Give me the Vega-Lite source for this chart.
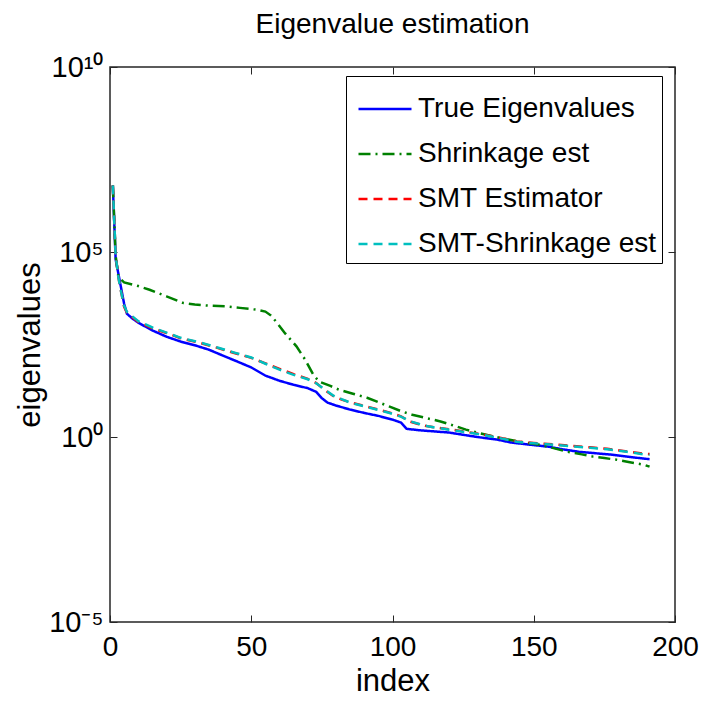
{
  "$schema": "https://vega.github.io/schema/vega-lite/v6.json",
  "autosize": "none",
  "width": 565,
  "height": 555,
  "padding": {"left": 110, "top": 67, "right": 40, "bottom": 82},
  "background": "white",
  "config": {
    "view": {"stroke": "#262626", "strokeWidth": 1.5},
    "font": "Liberation Sans, Arial"
  },
  "title": {
    "text": "Eigenvalue estimation",
    "fontSize": 28,
    "fontWeight": "normal",
    "font": "Liberation Sans, Arial",
    "color": "black",
    "offset": 14,
    "anchor": "middle"
  },
  "data": {
    "values": [
      {"series": "True Eigenvalues", "index": 1, "value": 6.31e6},
      {"series": "True Eigenvalues", "index": 2, "value": 6.31e4},
      {"series": "True Eigenvalues", "index": 3, "value": 2.51e4},
      {"series": "True Eigenvalues", "index": 4, "value": 1.0e4},
      {"series": "True Eigenvalues", "index": 5, "value": 3.98e3},
      {"series": "True Eigenvalues", "index": 6, "value": 2.14e3},
      {"series": "True Eigenvalues", "index": 8, "value": 1.58e3},
      {"series": "True Eigenvalues", "index": 10, "value": 1.23e3},
      {"series": "True Eigenvalues", "index": 15, "value": 759},
      {"series": "True Eigenvalues", "index": 20, "value": 513},
      {"series": "True Eigenvalues", "index": 25, "value": 380},
      {"series": "True Eigenvalues", "index": 30, "value": 302},
      {"series": "True Eigenvalues", "index": 35, "value": 229},
      {"series": "True Eigenvalues", "index": 40, "value": 158},
      {"series": "True Eigenvalues", "index": 45, "value": 110},
      {"series": "True Eigenvalues", "index": 50, "value": 75.9},
      {"series": "True Eigenvalues", "index": 55, "value": 45.7},
      {"series": "True Eigenvalues", "index": 60, "value": 33.1},
      {"series": "True Eigenvalues", "index": 65, "value": 25.7},
      {"series": "True Eigenvalues", "index": 70, "value": 20.9},
      {"series": "True Eigenvalues", "index": 73, "value": 16.6},
      {"series": "True Eigenvalues", "index": 75, "value": 11.2},
      {"series": "True Eigenvalues", "index": 77, "value": 8.51},
      {"series": "True Eigenvalues", "index": 80, "value": 7.08},
      {"series": "True Eigenvalues", "index": 85, "value": 5.5},
      {"series": "True Eigenvalues", "index": 90, "value": 4.47},
      {"series": "True Eigenvalues", "index": 95, "value": 3.72},
      {"series": "True Eigenvalues", "index": 100, "value": 2.95},
      {"series": "True Eigenvalues", "index": 103, "value": 2.45},
      {"series": "True Eigenvalues", "index": 105, "value": 1.66},
      {"series": "True Eigenvalues", "index": 110, "value": 1.51},
      {"series": "True Eigenvalues", "index": 120, "value": 1.32},
      {"series": "True Eigenvalues", "index": 130, "value": 1.0},
      {"series": "True Eigenvalues", "index": 137, "value": 0.851},
      {"series": "True Eigenvalues", "index": 142, "value": 0.708},
      {"series": "True Eigenvalues", "index": 150, "value": 0.603},
      {"series": "True Eigenvalues", "index": 155, "value": 0.55},
      {"series": "True Eigenvalues", "index": 160, "value": 0.468},
      {"series": "True Eigenvalues", "index": 166, "value": 0.398},
      {"series": "True Eigenvalues", "index": 172, "value": 0.363},
      {"series": "True Eigenvalues", "index": 178, "value": 0.331},
      {"series": "True Eigenvalues", "index": 184, "value": 0.288},
      {"series": "True Eigenvalues", "index": 191, "value": 0.251},

      {"series": "Shrinkage est", "index": 1, "value": 6.31e6},
      {"series": "Shrinkage est", "index": 2, "value": 7.94e4},
      {"series": "Shrinkage est", "index": 3, "value": 2.09e4},
      {"series": "Shrinkage est", "index": 5, "value": 1.51e4},
      {"series": "Shrinkage est", "index": 10, "value": 1.2e4},
      {"series": "Shrinkage est", "index": 14, "value": 9.55e3},
      {"series": "Shrinkage est", "index": 20, "value": 6.31e3},
      {"series": "Shrinkage est", "index": 26, "value": 4.17e3},
      {"series": "Shrinkage est", "index": 30, "value": 3.8e3},
      {"series": "Shrinkage est", "index": 35, "value": 3.55e3},
      {"series": "Shrinkage est", "index": 41, "value": 3.39e3},
      {"series": "Shrinkage est", "index": 46, "value": 3.09e3},
      {"series": "Shrinkage est", "index": 52, "value": 2.75e3},
      {"series": "Shrinkage est", "index": 55, "value": 2.45e3},
      {"series": "Shrinkage est", "index": 57, "value": 1.91e3},
      {"series": "Shrinkage est", "index": 59, "value": 1.26e3},
      {"series": "Shrinkage est", "index": 62, "value": 631},
      {"series": "Shrinkage est", "index": 66, "value": 282},
      {"series": "Shrinkage est", "index": 69, "value": 126},
      {"series": "Shrinkage est", "index": 72, "value": 47.9},
      {"series": "Shrinkage est", "index": 74, "value": 31.6},
      {"series": "Shrinkage est", "index": 78, "value": 24.0},
      {"series": "Shrinkage est", "index": 81, "value": 19.1},
      {"series": "Shrinkage est", "index": 86, "value": 14.8},
      {"series": "Shrinkage est", "index": 91, "value": 11.5},
      {"series": "Shrinkage est", "index": 95, "value": 8.71},
      {"series": "Shrinkage est", "index": 99, "value": 6.61},
      {"series": "Shrinkage est", "index": 103, "value": 5.01},
      {"series": "Shrinkage est", "index": 107, "value": 3.98},
      {"series": "Shrinkage est", "index": 112, "value": 3.24},
      {"series": "Shrinkage est", "index": 117, "value": 2.63},
      {"series": "Shrinkage est", "index": 122, "value": 2.0},
      {"series": "Shrinkage est", "index": 126, "value": 1.58},
      {"series": "Shrinkage est", "index": 131, "value": 1.26},
      {"series": "Shrinkage est", "index": 136, "value": 1.02},
      {"series": "Shrinkage est", "index": 141, "value": 0.851},
      {"series": "Shrinkage est", "index": 146, "value": 0.724},
      {"series": "Shrinkage est", "index": 152, "value": 0.617},
      {"series": "Shrinkage est", "index": 157, "value": 0.501},
      {"series": "Shrinkage est", "index": 162, "value": 0.398},
      {"series": "Shrinkage est", "index": 167, "value": 0.339},
      {"series": "Shrinkage est", "index": 171, "value": 0.295},
      {"series": "Shrinkage est", "index": 175, "value": 0.269},
      {"series": "Shrinkage est", "index": 179, "value": 0.245},
      {"series": "Shrinkage est", "index": 184, "value": 0.209},
      {"series": "Shrinkage est", "index": 189, "value": 0.178},
      {"series": "Shrinkage est", "index": 191, "value": 0.158},

      {"series": "SMT Estimator", "index": 1, "value": 6.31e6},
      {"series": "SMT Estimator", "index": 2, "value": 7.94e4},
      {"series": "SMT Estimator", "index": 3, "value": 2.0e4},
      {"series": "SMT Estimator", "index": 4, "value": 7.94e3},
      {"series": "SMT Estimator", "index": 5, "value": 3.31e3},
      {"series": "SMT Estimator", "index": 6, "value": 2.29e3},
      {"series": "SMT Estimator", "index": 10, "value": 1.29e3},
      {"series": "SMT Estimator", "index": 15, "value": 871},
      {"series": "SMT Estimator", "index": 20, "value": 646},
      {"series": "SMT Estimator", "index": 25, "value": 468},
      {"series": "SMT Estimator", "index": 32, "value": 347},
      {"series": "SMT Estimator", "index": 38, "value": 257},
      {"series": "SMT Estimator", "index": 44, "value": 186},
      {"series": "SMT Estimator", "index": 50, "value": 138},
      {"series": "SMT Estimator", "index": 55, "value": 97.7},
      {"series": "SMT Estimator", "index": 60, "value": 69.2},
      {"series": "SMT Estimator", "index": 65, "value": 50.1},
      {"series": "SMT Estimator", "index": 70, "value": 37.2},
      {"series": "SMT Estimator", "index": 73, "value": 28.8},
      {"series": "SMT Estimator", "index": 76, "value": 18.6},
      {"series": "SMT Estimator", "index": 79, "value": 12.9},
      {"series": "SMT Estimator", "index": 82, "value": 10.2},
      {"series": "SMT Estimator", "index": 85, "value": 8.71},
      {"series": "SMT Estimator", "index": 92, "value": 6.31},
      {"series": "SMT Estimator", "index": 99, "value": 4.57},
      {"series": "SMT Estimator", "index": 103, "value": 3.63},
      {"series": "SMT Estimator", "index": 106, "value": 2.63},
      {"series": "SMT Estimator", "index": 110, "value": 2.14},
      {"series": "SMT Estimator", "index": 113, "value": 1.91},
      {"series": "SMT Estimator", "index": 120, "value": 1.62},
      {"series": "SMT Estimator", "index": 126, "value": 1.38},
      {"series": "SMT Estimator", "index": 132, "value": 1.17},
      {"series": "SMT Estimator", "index": 138, "value": 0.955},
      {"series": "SMT Estimator", "index": 144, "value": 0.759},
      {"series": "SMT Estimator", "index": 150, "value": 0.692},
      {"series": "SMT Estimator", "index": 157, "value": 0.631},
      {"series": "SMT Estimator", "index": 163, "value": 0.575},
      {"series": "SMT Estimator", "index": 170, "value": 0.525},
      {"series": "SMT Estimator", "index": 176, "value": 0.479},
      {"series": "SMT Estimator", "index": 183, "value": 0.407},
      {"series": "SMT Estimator", "index": 189, "value": 0.355},
      {"series": "SMT Estimator", "index": 191, "value": 0.347},

      {"series": "SMT-Shrinkage est", "index": 1, "value": 6.31e6},
      {"series": "SMT-Shrinkage est", "index": 2, "value": 7.94e4},
      {"series": "SMT-Shrinkage est", "index": 3, "value": 2.0e4},
      {"series": "SMT-Shrinkage est", "index": 4, "value": 7.94e3},
      {"series": "SMT-Shrinkage est", "index": 5, "value": 3.55e3},
      {"series": "SMT-Shrinkage est", "index": 6, "value": 2.4e3},
      {"series": "SMT-Shrinkage est", "index": 10, "value": 1.35e3},
      {"series": "SMT-Shrinkage est", "index": 15, "value": 912},
      {"series": "SMT-Shrinkage est", "index": 20, "value": 661},
      {"series": "SMT-Shrinkage est", "index": 25, "value": 479},
      {"series": "SMT-Shrinkage est", "index": 32, "value": 355},
      {"series": "SMT-Shrinkage est", "index": 38, "value": 263},
      {"series": "SMT-Shrinkage est", "index": 44, "value": 191},
      {"series": "SMT-Shrinkage est", "index": 50, "value": 141},
      {"series": "SMT-Shrinkage est", "index": 55, "value": 95.5},
      {"series": "SMT-Shrinkage est", "index": 60, "value": 66.1},
      {"series": "SMT-Shrinkage est", "index": 65, "value": 47.9},
      {"series": "SMT-Shrinkage est", "index": 70, "value": 36.3},
      {"series": "SMT-Shrinkage est", "index": 73, "value": 28.2},
      {"series": "SMT-Shrinkage est", "index": 76, "value": 19.1},
      {"series": "SMT-Shrinkage est", "index": 79, "value": 13.2},
      {"series": "SMT-Shrinkage est", "index": 82, "value": 10.5},
      {"series": "SMT-Shrinkage est", "index": 85, "value": 8.51},
      {"series": "SMT-Shrinkage est", "index": 92, "value": 6.17},
      {"series": "SMT-Shrinkage est", "index": 99, "value": 4.47},
      {"series": "SMT-Shrinkage est", "index": 103, "value": 3.55},
      {"series": "SMT-Shrinkage est", "index": 106, "value": 2.69},
      {"series": "SMT-Shrinkage est", "index": 110, "value": 2.19},
      {"series": "SMT-Shrinkage est", "index": 113, "value": 1.91},
      {"series": "SMT-Shrinkage est", "index": 120, "value": 1.58},
      {"series": "SMT-Shrinkage est", "index": 126, "value": 1.35},
      {"series": "SMT-Shrinkage est", "index": 132, "value": 1.15},
      {"series": "SMT-Shrinkage est", "index": 138, "value": 0.933},
      {"series": "SMT-Shrinkage est", "index": 144, "value": 0.741},
      {"series": "SMT-Shrinkage est", "index": 150, "value": 0.676},
      {"series": "SMT-Shrinkage est", "index": 157, "value": 0.617},
      {"series": "SMT-Shrinkage est", "index": 163, "value": 0.562},
      {"series": "SMT-Shrinkage est", "index": 170, "value": 0.513},
      {"series": "SMT-Shrinkage est", "index": 176, "value": 0.468},
      {"series": "SMT-Shrinkage est", "index": 183, "value": 0.398},
      {"series": "SMT-Shrinkage est", "index": 189, "value": 0.339},
      {"series": "SMT-Shrinkage est", "index": 191, "value": 0.331}
    ]
  },
  "layer": [
    {
      "mark": {"type": "line", "strokeWidth": 2.5, "clip": true},
      "encoding": {
        "x": {
          "field": "index", "type": "quantitative",
          "scale": {"domain": [0, 200], "nice": false, "zero": false},
          "axis": {
            "orient": "bottom", "values": [0, 50, 100, 150, 200], "grid": false, "domain": false,
            "tickSize": -7, "tickColor": "#262626", "labelPadding": 18, "labelFlush": false,
            "labelFontSize": 28, "labelColor": "black", "labelFont": "Liberation Sans, Arial",
            "title": "index", "titleFontSize": 31, "titleFontWeight": "normal", "titleColor": "black",
            "titleFont": "Liberation Sans, Arial", "titlePadding": 5
          }
        },
        "y": {
          "field": "value", "type": "quantitative",
          "scale": {"type": "log", "domain": [1e-5, 1e10], "nice": false},
          "axis": {
            "orient": "left", "values": [1e-5, 1, 1e5, 1e10], "grid": false, "domain": false,
            "tickSize": -7, "tickColor": "#262626", "labelPadding": 14, "labelFlush": false,
            "labelExpr": "datum.value > 1e9 ? '10¹⁰' : datum.value > 1e4 ? '10⁵' : datum.value > 0.1 ? '10⁰' : '10⁻⁵'",
            "labelFontSize": 29, "labelColor": "black", "labelFont": "Liberation Sans, Arial",
            "title": "eigenvalues", "titleFontSize": 31, "titleFontWeight": "normal", "titleColor": "black",
            "titleFont": "Liberation Sans, Arial", "titlePadding": 2
          }
        },
        "color": {
          "field": "series", "type": "nominal",
          "scale": {
            "domain": ["True Eigenvalues", "Shrinkage est", "SMT Estimator", "SMT-Shrinkage est"],
            "range": ["#0000ff", "#008000", "#ff0000", "#00bfbf"]
          },
          "legend": {
            "title": null, "orient": "none", "legendX": 236, "legendY": 9,
            "strokeColor": "black", "fillColor": "white", "padding": 5,
            "symbolType": "stroke", "symbolSize": 2809, "symbolStrokeWidth": 2.5, "symbolOffset": 6,
            "labelFontSize": 28, "labelFont": "Liberation Sans, Arial",
            "labelColor": "black", "rowPadding": 3, "labelOffset": 5, "labelLimit": 400
          }
        },
        "strokeDash": {
          "field": "series", "type": "nominal",
          "scale": {
            "domain": ["True Eigenvalues", "Shrinkage est", "SMT Estimator", "SMT-Shrinkage est"],
            "range": [[1, 0], [12, 5, 2, 5], [9, 6], [9, 6]]
          },
          "legend": {
            "title": null, "orient": "none", "legendX": 236, "legendY": 9,
            "strokeColor": "black", "fillColor": "white", "padding": 5,
            "symbolType": "stroke", "symbolSize": 2809, "symbolStrokeWidth": 2.5, "symbolOffset": 6,
            "labelFontSize": 28, "labelFont": "Liberation Sans, Arial",
            "labelColor": "black", "rowPadding": 3, "labelOffset": 5, "labelLimit": 400
          }
        }
      }
    },
    {
      "mark": {"type": "line", "strokeOpacity": 0},
      "encoding": {
        "x": {
          "field": "index", "type": "quantitative",
          "axis": {"orient": "top", "values": [0, 50, 100, 150, 200], "grid": false, "domain": false,
                   "labels": false, "title": null, "tickSize": -7, "tickColor": "#262626"}
        },
        "y": {
          "field": "value", "type": "quantitative",
          "axis": {"orient": "right", "values": [1e-5, 1, 1e5, 1e10], "grid": false, "domain": false,
                   "labels": false, "title": null, "tickSize": -7, "tickColor": "#262626"}
        }
      }
    }
  ],
  "resolve": {"axis": {"x": "independent", "y": "independent"}}
}
